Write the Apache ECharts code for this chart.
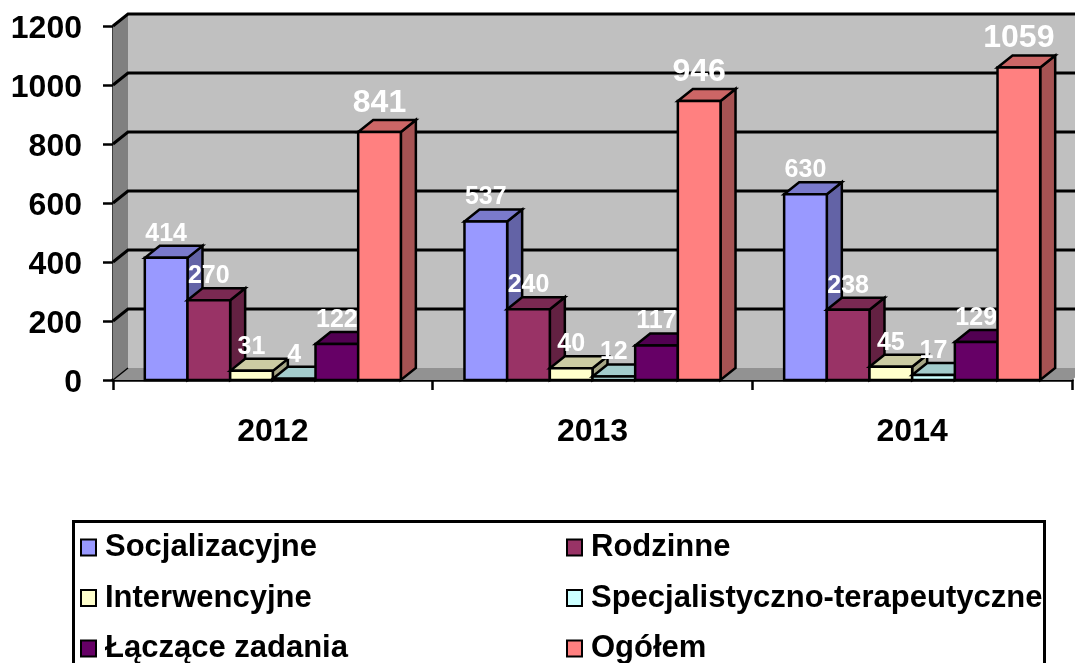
<!DOCTYPE html>
<html><head><meta charset="utf-8">
<style>html,body{margin:0;padding:0;background:#fff}#c{width:1075px;height:663px}</style>
<script src="https://cdn.jsdelivr.net/npm/echarts@6/dist/echarts.min.js"></script>
</head><body><div id="c"></div>
<script>
const categories = ['2012','2013','2014'];
const socjalizacyjne = [414,537,630];
const rodzinne = [270,240,238];
const interwencyjne = [31,40,45];
const specjalistyczne = [4,12,17];
const laczace = [122,117,129];
const ogolem = [841,946,1059];
const seriesNames = ['Socjalizacyjne','Rodzinne','Interwencyjne','Specjalistyczno-terapeutyczne','Łączące zadania','Ogółem'];
const seriesValues = [socjalizacyjne,rodzinne,interwencyjne,specjalistyczne,laczace,ogolem];
const colors = ['#9999FF','#993366','#FFFFCC','#CCFFFF','#660066','#FF8080'];
const yTicks = [0,200,400,600,800,1000,1200];
const FONT = '"Liberation Sans", Arial, sans-serif';
const DX = 15, DY = -12, BAR_FRAC = 0.1335;

function shade(hex,f){
  const n=parseInt(hex.slice(1),16);
  return 'rgb('+[(n>>16)&255,(n>>8)&255,n&255].map(v=>Math.round(v*f)).join(',')+')';
}
function wallItem(params,api){
  const o=api.coord([0,0]);
  const s=api.size([1,0]);
  const x0=o[0]-s[0]/2, y0=o[1];
  const x1=x0+s[0]*categories.length;
  const yTop=api.coord([0,yTicks[yTicks.length-1]])[1];
  const lineS={stroke:'#000',lineWidth:3};
  const kids=[
    {type:'rect',shape:{x:x0+DX,y:yTop+DY,width:x1-x0,height:y0-yTop},style:{fill:'#C0C0C0'}},
    {type:'polygon',shape:{points:[[x0,y0],[x0+DX,y0+DY],[x0+DX,yTop+DY],[x0,yTop]]},style:{fill:'#808080'}},
    {type:'polygon',shape:{points:[[x0,y0],[x0+DX,y0+DY],[x1+DX,y0+DY],[x1,y0]]},style:{fill:'#929292'}}
  ];
  yTicks.forEach(t=>{
    const y=api.coord([0,t])[1];
    if(t>0) kids.push({type:'polyline',shape:{points:[[x0,y],[x0+DX,y+DY],[x1+DX,y+DY]]},style:Object.assign({fill:null},lineS)});
    else kids.push({type:'line',shape:{x1:x0,y1:y,x2:x0+DX,y2:y+DY},style:{stroke:'#000',lineWidth:1.5}});
  });
  return {type:'group',children:kids};
}
function barItem(si){
  return function(params,api){
    const cat=api.value(0), val=api.value(1);
    const p=api.coord([cat,val]), b=api.coord([cat,0]);
    const cw=api.size([1,0])[0], w=cw*BAR_FRAC;
    const x=p[0]+(si-3)*w, xr=x+w, yt=p[1], yb=b[1];
    const col=colors[si];
    const big=si===5;
    const st={stroke:'#000',lineWidth:2.5,lineJoin:'miter'};
    return {type:'group',children:[
      {type:'polygon',shape:{points:[[xr,yt],[xr+DX,yt+DY],[xr+DX,yb+DY],[xr,yb]]},style:Object.assign({fill:shade(col,0.65)},st)},
      {type:'polygon',shape:{points:[[x,yt],[x+DX,yt+DY],[xr+DX,yt+DY],[xr,yt]]},style:Object.assign({fill:shade(col,0.8)},st)},
      {type:'rect',shape:{x:x,y:yt,width:w,height:yb-yt},style:Object.assign({fill:col},st)},
      {type:'text',z2:100,style:{x:x+w/2,y:yt-(big?29:24),text:String(val),fill:'#fff',
        font:'bold '+(big?32:25)+'px '+FONT,align:'center',verticalAlign:'middle'}}
    ]};
  };
}
const series=[{type:'custom',silent:true,z:1,clip:false,renderItem:wallItem,data:[[0,0]],encode:{x:0,y:1}}];
seriesNames.forEach((name,si)=>{
  series.push({type:'custom',name:name,z:2+si,clip:false,renderItem:barItem(si),
    itemStyle:{color:colors[si]},encode:{x:0,y:1},
    data:seriesValues[si].map((v,i)=>[i,v])});
});
const legendBase={orient:'vertical',top:532,height:200,itemWidth:15,itemHeight:16,itemGap:19.5,icon:'rect',
  itemStyle:{borderColor:'#000',borderWidth:2},
  textStyle:{color:'#000',fontFamily:FONT,fontWeight:'bold',fontSize:31,padding:[0,0,0,4]},padding:0,selectedMode:false};
const chart=echarts.init(document.getElementById('c'),null,{renderer:'canvas'});
chart.setOption({
  animation:false,backgroundColor:'#fff',
  grid:{left:113,right:3,top:26,bottom:283,containLabel:false},
  xAxis:{type:'category',data:categories,
    axisLine:{lineStyle:{color:'#000',width:3.5}},
    axisTick:{show:true,length:10,lineStyle:{color:'#000',width:2.5}},
    axisLabel:{color:'#000',fontFamily:FONT,fontWeight:'bold',fontSize:32,margin:36},
    splitLine:{show:false}},
  yAxis:{type:'value',min:0,max:1200,interval:200,
    axisLine:{show:true,lineStyle:{color:'#000',width:2.5}},
    axisTick:{show:true,length:10,lineStyle:{color:'#000',width:2.5}},
    axisLabel:{color:'#000',fontFamily:FONT,fontWeight:'bold',fontSize:32,margin:31,
      verticalAlign:'top',lineHeight:6,formatter:v=>String(v)},
    splitLine:{show:false}},
  legend:[
    Object.assign({left:80,data:[seriesNames[0],seriesNames[2],seriesNames[4]]},legendBase),
    Object.assign({left:566,data:[seriesNames[1],seriesNames[3],seriesNames[5]]},legendBase)
  ],
  graphic:[{type:'rect',left:72,top:520,silent:true,z:-1,
    shape:{width:971,height:170},style:{fill:'#fff',stroke:'#000',lineWidth:3}}],
  series:series
});
</script></body></html>
